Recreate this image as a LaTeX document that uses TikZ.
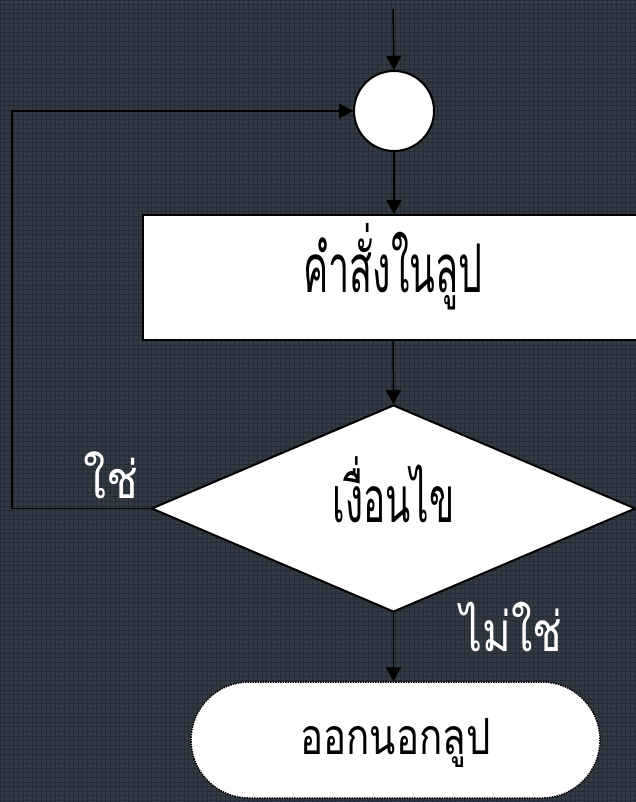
\documentclass[tikz,border=0pt]{standalone}
\usepackage{fontspec}
\usepackage{graphicx}
\newfontfamily\thaifont[Script=Thai]{Loma}
\usetikzlibrary{shapes.geometric,shapes.misc,arrows.meta}
\definecolor{bgc}{RGB}{50,58,69}
\definecolor{gridA}{RGB}{38,44,53}
\definecolor{gridB}{RGB}{62,70,82}
\newcommand{\thtxt}[4]{\raisebox{#1}{\smash{\scalebox{#2}[#3]{#4}}}}
\begin{document}
\begin{tikzpicture}[x=1pt,y=-1pt,
  conn/.style={line width=1.5pt,-{Triangle[length=14pt,width=15pt]}},
  shapebox/.style={draw=black,fill=white,line width=2pt},
  lbl/.style={text=white,font=\thaifont\fontsize{56}{56}\selectfont,inner sep=0pt},
  txt/.style={font=\thaifont\fontsize{64}{64}\selectfont}]
\useasboundingbox (0,0) rectangle (636,802);
\clip (0,0) rectangle (636,802);
\fill[bgc] (0,0) rectangle (636,802);
\draw[gridB,line width=0.6pt,step=4.6pt,xshift=2.3pt,yshift=2.3pt] (-5,5) grid (640,-807);
\draw[gridA,line width=0.8pt,step=4.6pt] (0,0) grid (636,802);
\coordinate (start) at (393,9);
\coordinate (lp) at (12,0);
\node[circle,shapebox,minimum size=80pt,inner sep=0pt] (join) at (394,111) {};
\node[rectangle,shapebox,minimum width=500pt,minimum height=125pt,inner sep=0pt,txt] (body) at (393,277.5) {\thtxt{-29pt}{0.59}{1.05}{คำสั่งในลูป}};
\node[diamond,shapebox,shape aspect=2.338,minimum width=484pt,minimum height=207pt,inner sep=0pt,txt] (cond) at (393.5,508.5) {\thtxt{-27pt}{0.576}{1}{เงื่อนไข}};
\node[rounded rectangle,draw=black,fill=white,line width=1.5pt,dash pattern=on 1.5pt off 1pt,minimum width=409pt,minimum height=116pt,inner sep=0pt,txt] (exit) at (395.5,740) {\thtxt{-29pt}{0.6}{0.78}{ออกนอกลูป}\hspace{14pt}};
\node[lbl] (yes) at (111,475) {\scalebox{0.84}[0.93]{ใช่}};
\node[lbl] (no) at (511.5,627.5) {\scalebox{0.78}[0.98]{ไม่ใช่}};
\draw[conn] (start) -- (join.north);
\draw[conn] (join.south) -- (join.south |- body.north);
\draw[conn] (body.south) -- (cond.north);
\draw[conn] (cond.south) -- (cond.south |- exit.north);
\draw[conn] (cond.west) -- (cond.west -| lp) |- (join.west);
\end{tikzpicture}
\end{document}
